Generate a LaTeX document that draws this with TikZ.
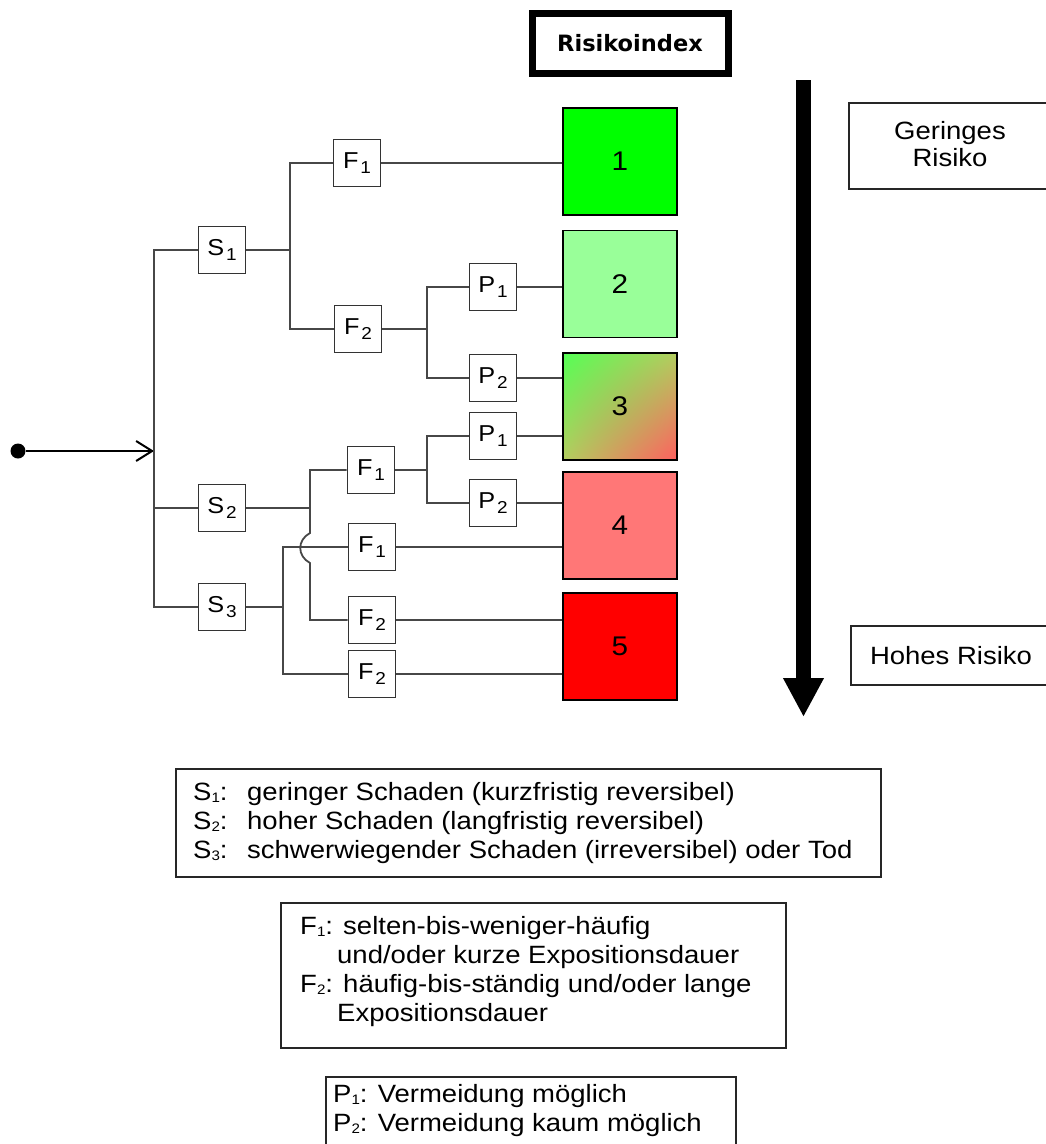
\documentclass[tikz,border=0pt]{standalone}
\usepackage{fontspec}
\setmainfont{Liberation Sans}[FakeStretch=1.1]
\newfontfamily\idxfont{DejaVu Sans}
\usetikzlibrary{arrows.meta,shadings}
\newcommand\tsub[1]{\kern0.08em\raisebox{-0.2em}{\scalebox{0.75}{#1}}}
\newcommand\lsub[1]{\raisebox{-0.08em}{\scalebox{0.55}{#1}}}
\definecolor{rOne}{RGB}{0,255,0}
\definecolor{rTwo}{RGB}{153,255,153}
\definecolor{rFour}{RGB}{255,119,119}
\definecolor{rFive}{RGB}{255,0,0}
\definecolor{gTL}{RGB}{85,255,85}
\definecolor{gMid}{RGB}{180,205,95}
\definecolor{gBR}{RGB}{255,95,95}
\begin{document}
\begin{tikzpicture}[x=1pt,y=-1pt,
  conn/.style={draw=black!72, line width=1.8pt},
  tbox/.style={draw=black!80, line width=1.6pt, fill=white, minimum width=47pt, minimum height=47pt, inner sep=0pt, font=\fontsize{23}{26}\selectfont},
  rbox/.style={draw=black, line width=1.5pt, minimum width=114pt, minimum height=107pt, inner sep=0pt, font=\fontsize{27}{30}\selectfont},
  lbox/.style={draw=black!85, line width=1.5pt, inner sep=0pt, anchor=north west},
  ltext/.style={align=left, inner sep=0pt, anchor=west, font=\fontsize{25}{29}\selectfont},
  sidebox/.style={draw=black!85, line width=1.5pt, inner sep=0pt, align=center, font=\fontsize{25}{27}\selectfont},
]
\useasboundingbox (0,0) rectangle (1045,1144);

% title
\node[draw=black, line width=7pt, minimum width=196pt, minimum height=60pt, inner sep=0pt,
      font=\idxfont\bfseries\fontsize{22.5}{25}\selectfont] (title) at (630,43.5) {Risikoindex};

% big arrow
\coordinate (arrT) at (803.5,80);
\coordinate (arrB) at (803.5,717);
\draw[line width=15pt, -{Triangle[length=39pt,width=38pt]}] (arrT) -- (arrB);

% side boxes
\node[sidebox, minimum width=202pt, minimum height=86pt] (low) at (950,146) {\raisebox{4pt}{\shortstack{Geringes\\Risiko}}};
\node[sidebox, minimum width=200pt, minimum height=59pt] (high) at (951,655.5) {Hohes Risiko};

% risk index boxes
\node[rbox, fill=rOne] (R1) at (620,161.5) {1};
\node[rbox, fill=rTwo] (R2) at (620,284) {2};
\node[rbox, shade, upper left=gTL, upper right=gMid, lower left=gMid, lower right=gBR] (R3) at (620,406.5) {3};
\node[rbox, fill=rFour] (R4) at (620,525.5) {4};
\node[rbox, fill=rFive] (R5) at (620,646.5) {5};

% tree boxes
\node[tbox] (S1) at (222,250) {S\tsub1};
\node[tbox] (S2) at (222,508) {S\tsub2};
\node[tbox] (S3) at (222,607) {S\tsub3};
\node[tbox] (F1a) at (357,163) {F\tsub1};
\node[tbox] (F2a) at (358,329) {F\tsub2};
\node[tbox] (P1a) at (493,287) {P\tsub1};
\node[tbox] (P2a) at (493,378) {P\tsub2};
\node[tbox] (F1b) at (371,470) {F\tsub1};
\node[tbox] (P1b) at (493,436) {P\tsub1};
\node[tbox] (P2b) at (493,503) {P\tsub2};
\node[tbox] (F1c) at (372,547) {F\tsub1};
\node[tbox] (F2b) at (372,620) {F\tsub2};
\node[tbox] (F2d) at (372,674) {F\tsub2};

% start
\node[circle, fill=black, inner sep=0pt, minimum size=15pt] (start) at (18,451) {};
\coordinate (tT) at (154,250);
\coordinate (tB) at (154,607);
\coordinate (ain) at (154,451);
\coordinate (b1) at (290,250);
\coordinate (b2) at (427,329);
\coordinate (b3) at (310,508);
\coordinate (j1) at (310,533);
\coordinate (j2) at (310,563);
\coordinate (b4) at (427,470);
\coordinate (b5) at (283,607);

\draw[black, line width=2pt, -{Straight Barb[length=16pt,width=20pt,line width=2pt]}] (start) -- (ain);
\draw[conn] (S1.west) -- (tT) -- (tB) -- (S3.west);
\draw[conn] (S2.west) -- (S2.west -| tT);
\draw[conn] (S1.east) -- (b1);
\draw[conn] (F1a.west) -| (b1) |- (F2a.west);
\draw[conn] (F1a.east) -- (F1a.east -| R1.west);
\draw[conn] (F2a.east) -- (b2);
\draw[conn] (P1a.west) -| (b2) |- (P2a.west);
\draw[conn] (P1a.east) -- (P1a.east -| R2.west);
\draw[conn] (P2a.east) -- (P2a.east -| R3.west);
\draw[conn] (S2.east) -- (b3);
\draw[conn] (F1b.west) -| (b3) -- (j1) .. controls (297,540) and (297,556) .. (j2) |- (F2b.west);
\draw[conn] (F1b.east) -- (b4);
\draw[conn] (P1b.west) -| (b4) |- (P2b.west);
\draw[conn] (P1b.east) -- (P1b.east -| R3.west);
\draw[conn] (P2b.east) -- (P2b.east -| R4.west);
\draw[conn] (S3.east) -- (b5);
\draw[conn] (F1c.west) -| (b5) |- (F2d.west);
\draw[conn] (F1c.east) -- (F1c.east -| R4.west);
\draw[conn] (F2b.east) -- (F2b.east -| R5.west);
\draw[conn] (F2d.east) -- (F2d.east -| R5.west);

% legends
\node[lbox, minimum width=705pt, minimum height=108pt] (L1) at (175,768) {};
\node[ltext] (L1t) at (193,823) {\makebox[54pt][l]{S\lsub1:}geringer Schaden (kurzfristig reversibel)\\
\makebox[54pt][l]{S\lsub2:}hoher Schaden (langfristig reversibel)\\
\makebox[54pt][l]{S\lsub3:}schwerwiegender Schaden (irreversibel) oder Tod};

\node[lbox, minimum width=505pt, minimum height=145pt] (L2) at (280,902) {};
\node[ltext] (L2t) at (300,972) {F\lsub1: selten-bis-weniger-häufig\\
\hspace*{37pt}und/oder kurze Expositionsdauer\\
F\lsub2: häufig-bis-ständig und/oder lange\\
\hspace*{37pt}Expositionsdauer};

\node[lbox, minimum width=410pt, minimum height=80pt] (L3) at (325,1076) {};
\node[ltext] (L3t) at (333,1111) {P\lsub1: Vermeidung möglich\\
P\lsub2: Vermeidung kaum möglich};
\end{tikzpicture}
\end{document}
